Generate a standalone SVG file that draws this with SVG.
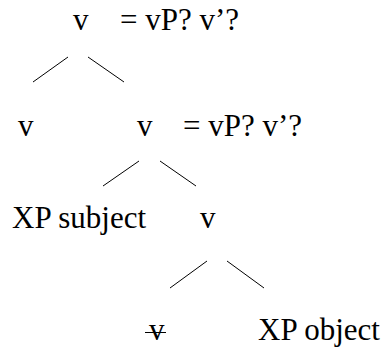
<svg xmlns="http://www.w3.org/2000/svg" width="387" height="350" viewBox="0 0 387 350">
<style>
.t{font-family:'Liberation Serif',serif;font-size:31px;fill:#000}
.e{stroke:#000;stroke-width:1;fill:none}
</style>
<rect width="387" height="350" fill="#fff"/>
<g class="t" font-family="Liberation Serif, serif">
<g id="n-top"><text x="73" y="30">v</text><text x="120" y="30">= vP? v’?</text></g>
<g id="n-v-left"><text x="18" y="136">v</text></g>
<g id="n-v-mid"><text x="137" y="136">v</text><text x="183" y="136">= vP? v’?</text></g>
<g id="n-xp-subject"><text x="12" y="228">XP subject</text></g>
<g id="n-v-low"><text x="200" y="228">v</text></g>
<g id="n-v-struck"><text x="149" y="340">v</text><line class="e" x1="145" y1="332.5" x2="166" y2="332.5" stroke-width="1.5"/></g>
<g id="n-xp-object"><text x="258" y="340">XP object</text></g>
</g>
<g id="connectors">
<line class="e" x1="68" y1="57" x2="33" y2="82"/>
<line class="e" x1="88" y1="57" x2="124" y2="82"/>
<line class="e" x1="139" y1="161" x2="103" y2="186"/>
<line class="e" x1="160" y1="161" x2="196" y2="186"/>
<line class="e" x1="207" y1="261" x2="170" y2="288"/>
<line class="e" x1="227" y1="261" x2="264" y2="288"/>
</g>
</svg>
